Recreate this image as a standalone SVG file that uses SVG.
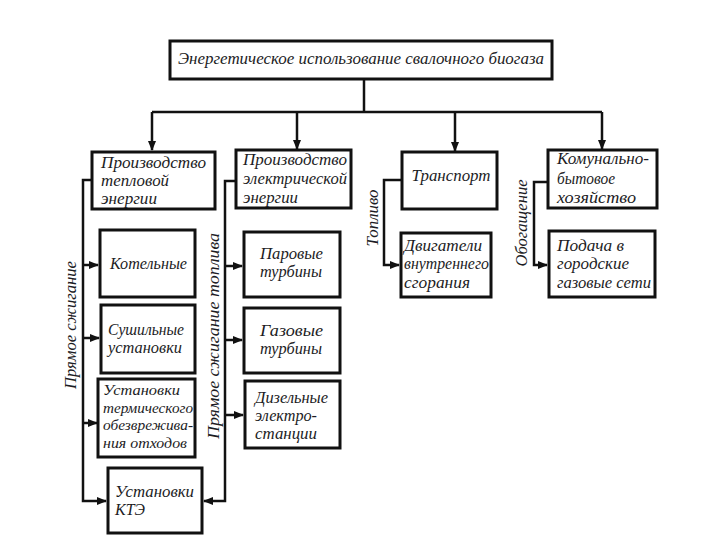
<svg xmlns="http://www.w3.org/2000/svg" width="720" height="540" viewBox="0 0 720 540" font-family="Liberation Serif, serif" font-style="italic">
<style>
.box{fill:#fff;stroke:#111;stroke-width:3}
.t{font-size:16.5px;fill:#1c1c24}
.s{font-size:15px}
.ln{fill:none;stroke:#111;stroke-width:2.5}
</style>
<defs>
<marker id="ah" markerUnits="userSpaceOnUse" markerWidth="10" markerHeight="8" refX="9" refY="4" orient="auto">
<path d="M0,0 L10,4 L0,8 Z" fill="#111"/>
</marker>
</defs>
<rect width="720" height="540" fill="#fff"/>
<g id="connectors">
<path class="ln" d="M364,79 V112"/>
<path class="ln" d="M152,112 H602"/>
<path class="ln" d="M152,112 V150" marker-end="url(#ah)"/>
<path class="ln" d="M297,112 V149" marker-end="url(#ah)"/>
<path class="ln" d="M455,112 V151" marker-end="url(#ah)"/>
<path class="ln" d="M602,112 V149" marker-end="url(#ah)"/>
<path class="ln" d="M92,180 H83 V501 H106" marker-end="url(#ah)"/>
<path class="ln" d="M83,265 H98" marker-end="url(#ah)"/>
<path class="ln" d="M83,338 H99" marker-end="url(#ah)"/>
<path class="ln" d="M83,423 H97" marker-end="url(#ah)"/>
<path class="ln" d="M236,181 H225 V501 H204" marker-end="url(#ah)"/>
<path class="ln" d="M225,266 H242" marker-end="url(#ah)"/>
<path class="ln" d="M225,340 H242" marker-end="url(#ah)"/>
<path class="ln" d="M225,415 H243" marker-end="url(#ah)"/>
<path class="ln" d="M402,180 H384 V265 H399" marker-end="url(#ah)"/>
<path class="ln" d="M548,182 H534 V265 H547" marker-end="url(#ah)"/>
<text class="t" transform="translate(76,325) rotate(-90)" text-anchor="middle" textLength="128" lengthAdjust="spacingAndGlyphs">Прямое сжигание</text>
<text class="t" transform="translate(219,336) rotate(-90)" text-anchor="middle" textLength="206" lengthAdjust="spacingAndGlyphs">Прямое сжигание топлива</text>
<text class="t" transform="translate(378,218) rotate(-90)" text-anchor="middle" textLength="57" lengthAdjust="spacingAndGlyphs">Топливо</text>
<text class="t" transform="translate(527,223) rotate(-90)" text-anchor="middle" textLength="87" lengthAdjust="spacingAndGlyphs">Обогащение</text>
</g>
<g id="root">
<rect class="box" x="170" y="41" width="382" height="38"/>
<text class="t" x="361" y="64" text-anchor="middle" textLength="366" lengthAdjust="spacingAndGlyphs" style="font-size:17.5px">Энергетическое использование свалочного биогаза</text>
</g>
<g id="heat">
<rect class="box" x="92" y="152" width="123" height="57"/>
<text class="t" x="101" y="168" textLength="105" lengthAdjust="spacingAndGlyphs">Производство</text>
<text class="t" x="101" y="186" textLength="68" lengthAdjust="spacingAndGlyphs">тепловой</text>
<text class="t" x="101" y="204" textLength="56" lengthAdjust="spacingAndGlyphs">энергии</text>
</g>
<g id="electric">
<rect class="box" x="236" y="150" width="115" height="58"/>
<text class="t" x="243" y="165" textLength="104" lengthAdjust="spacingAndGlyphs">Производство</text>
<text class="t" x="243" y="184" textLength="104" lengthAdjust="spacingAndGlyphs">электрической</text>
<text class="t" x="243" y="203" textLength="55" lengthAdjust="spacingAndGlyphs">энергии</text>
</g>
<g id="transport">
<rect class="box" x="402" y="152" width="95" height="57"/>
<text class="t" x="451" y="181" text-anchor="middle" textLength="79" lengthAdjust="spacingAndGlyphs">Транспорт</text>
</g>
<g id="communal">
<rect class="box" x="548" y="150" width="109" height="58"/>
<text class="t" x="557" y="164" textLength="92" lengthAdjust="spacingAndGlyphs">Комунально-</text>
<text class="t" x="557" y="184" textLength="58" lengthAdjust="spacingAndGlyphs">бытовое</text>
<text class="t" x="557" y="203" textLength="79" lengthAdjust="spacingAndGlyphs">хозяйство</text>
</g>
<g id="boilers">
<rect class="box" x="100" y="230" width="95" height="67"/>
<text class="t" x="148.5" y="269" text-anchor="middle" textLength="77" lengthAdjust="spacingAndGlyphs">Котельные</text>
</g>
<g id="dryers">
<rect class="box" x="101" y="305" width="94" height="68"/>
<text class="t" x="108" y="335" textLength="76" lengthAdjust="spacingAndGlyphs">Сушильные</text>
<text class="t" x="108" y="353" textLength="74" lengthAdjust="spacingAndGlyphs">установки</text>
</g>
<g id="thermal">
<rect class="box" x="98" y="379" width="97" height="78"/>
<text class="t s" x="103" y="395" textLength="77" lengthAdjust="spacingAndGlyphs">Установки</text>
<text class="t s" x="103" y="412.5" textLength="90" lengthAdjust="spacingAndGlyphs">термического</text>
<text class="t s" x="103" y="430" textLength="90" lengthAdjust="spacingAndGlyphs">обезврежива-</text>
<text class="t s" x="103" y="447.5" textLength="84" lengthAdjust="spacingAndGlyphs">ния отходов</text>
</g>
<g id="kte">
<rect class="box" x="108" y="468" width="94" height="65"/>
<text class="t" x="115" y="497" textLength="79" lengthAdjust="spacingAndGlyphs">Установки</text>
<text class="t" x="115" y="515" textLength="30" lengthAdjust="spacingAndGlyphs">КТЭ</text>
</g>
<g id="steam">
<rect class="box" x="244" y="232" width="96" height="65"/>
<text class="t" x="260" y="259" textLength="63" lengthAdjust="spacingAndGlyphs">Паровые</text>
<text class="t" x="260" y="277" textLength="62" lengthAdjust="spacingAndGlyphs">турбины</text>
</g>
<g id="gas">
<rect class="box" x="244" y="308" width="96" height="65"/>
<text class="t" x="260" y="336" textLength="63" lengthAdjust="spacingAndGlyphs">Газовые</text>
<text class="t" x="260" y="354" textLength="62" lengthAdjust="spacingAndGlyphs">турбины</text>
</g>
<g id="diesel">
<rect class="box" x="245" y="381" width="95" height="67"/>
<text class="t" x="255" y="403" textLength="73" lengthAdjust="spacingAndGlyphs">Дизельные</text>
<text class="t" x="255" y="421" textLength="62" lengthAdjust="spacingAndGlyphs">электро-</text>
<text class="t" x="255" y="439" textLength="62" lengthAdjust="spacingAndGlyphs">станции</text>
</g>
<g id="engines">
<rect class="box" x="401" y="233" width="90" height="64"/>
<text class="t" x="404" y="251" textLength="78" lengthAdjust="spacingAndGlyphs">Двигатели</text>
<text class="t" x="404" y="269" textLength="85" lengthAdjust="spacingAndGlyphs">внутреннего</text>
<text class="t" x="404" y="288" textLength="66" lengthAdjust="spacingAndGlyphs">сгорания</text>
</g>
<g id="citygas">
<rect class="box" x="549" y="231" width="106" height="66"/>
<text class="t" x="557" y="251" textLength="67" lengthAdjust="spacingAndGlyphs">Подача в</text>
<text class="t" x="557" y="269" textLength="72" lengthAdjust="spacingAndGlyphs">городские</text>
<text class="t" x="557" y="288" textLength="94" lengthAdjust="spacingAndGlyphs">газовые сети</text>
</g>
</svg>
